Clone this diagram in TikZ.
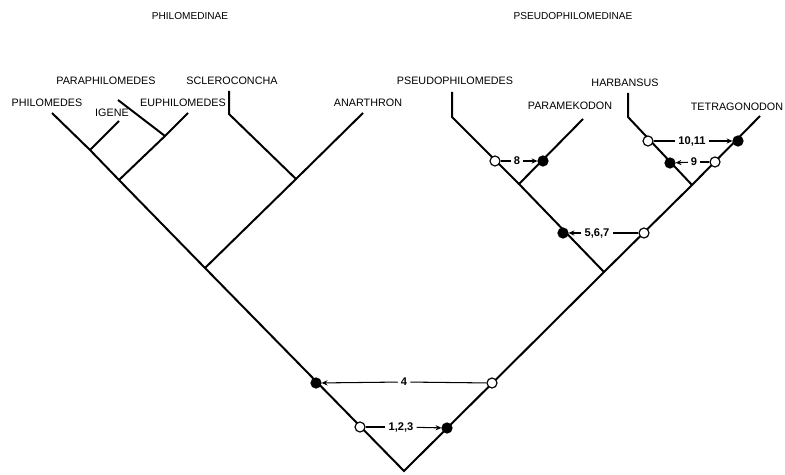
\documentclass[tikz,border=0pt]{standalone}
\usepackage{fontspec}
\setmainfont{Liberation Sans}
\usetikzlibrary{positioning,arrows.meta}

\begin{document}
\begin{tikzpicture}[x=0.3mm, y=-0.3mm, every node/.style={font=\fontsize{9.2}{11}\selectfont}]
    \tikzset{
        branch/.style = {line width=1.7pt, line join=miter},
        openmark/.style = {circle, draw=black, fill=white, line width=1pt, inner sep=0pt, minimum size=3mm},
        fullmark/.style = {circle, draw=black, fill=black, line width=1pt, inner sep=0pt, minimum size=3mm},
        taxon/.style = {inner sep=0.5pt},
        group/.style = {inner sep=1pt, font=\fontsize{8.6}{10}\selectfont},
        change/.style = {inner sep=2.5pt, font=\fontsize{9.5}{11}\selectfont\bfseries},
        tie/.style = {line width=0.9pt},
        arrow/.style = {line width=0.9pt, -{Stealth[length=5pt,width=4.5pt]}},
    }
    \useasboundingbox (0,0) rectangle (785,475);

    % group names
    \node (philomedinae) [group] at (190,16) {PHILOMEDINAE};
    \node (pseudophilomedinae) [group] at (573,16) {PSEUDOPHILOMEDINAE};

    % branch points and tips
    \coordinate (root) at (404,471);
    \coordinate (left) at (205,268);
    \coordinate (right) at (604,272);
    \coordinate (philo_eu) at (119,180);
    \coordinate (philo_ig) at (90,150);
    \coordinate (para_eu) at (165,136);
    \coordinate (scler_an) at (296,179);
    \coordinate (pseudo_pm) at (519,184);
    \coordinate (harb_tet) at (692,185);

    \coordinate (t_philomedes) at (52,113);
    \coordinate (t_igene) at (119,121);
    \coordinate (t_paraphilomedes) at (118,100);
    \coordinate (t_euphilomedes) at (188,113);
    \coordinate (b_scleroconcha) at (229,114);
    \coordinate (t_scleroconcha) at (229,91);
    \coordinate (t_anarthron) at (363,113);
    \coordinate (b_pseudophilomedes) at (452,117);
    \coordinate (t_pseudophilomedes) at (452,92);
    \coordinate (t_paramekodon) at (583,119);
    \coordinate (b_harbansus) at (628,117);
    \coordinate (t_harbansus) at (628,93);
    \coordinate (t_tetragonodon) at (760,116);

    % taxa
    \node (philomedes) [taxon] at (47,103) {PHILOMEDES};
    \node (igene) [taxon] at (112,113) {IGENE};
    \node (paraphilomedes) [taxon] at (106,81) {PARAPHILOMEDES};
    \node (euphilomedes) [taxon] at (183,103) {EUPHILOMEDES};
    \node (scleroconcha) [taxon] at (232,81) {SCLEROCONCHA};
    \node (anarthron) [taxon] at (368,103) {ANARTHRON};
    \node (pseudophilomedes) [taxon] at (455,81) {PSEUDOPHILOMEDES};
    \node (paramekodon) [taxon] at (570,106) {PARAMEKODON};
    \node (harbansus) [taxon] at (625,83) {HARBANSUS};
    \node (tetragonodon) [taxon] at (737,107) {TETRAGONODON};

    % tree
    \draw [branch] (t_philomedes) -- (philo_ig) -- (philo_eu) -- (left) -- (root) -- (right) -- (harb_tet) -- (t_tetragonodon);
    \draw [branch] (philo_ig) -- (t_igene);
    \draw [branch] (philo_eu) -- (para_eu) -- (t_euphilomedes);
    \draw [branch] (para_eu) -- (t_paraphilomedes);
    \draw [branch] (left) -- (scler_an) -- (t_anarthron);
    \draw [branch] (scler_an) -- (b_scleroconcha) -- (t_scleroconcha);
    \draw [branch] (right) -- (pseudo_pm) -- (t_paramekodon);
    \draw [branch] (pseudo_pm) -- (b_pseudophilomedes) -- (t_pseudophilomedes);
    \draw [branch] (harb_tet) -- (b_harbansus) -- (t_harbansus);

    % character changes
    \node (o123) [openmark] at (360,427) {};
    \node (f123) [fullmark] at (447,428) {};
    \node (c123) [change] at (401,427) {1,2,3};
    \draw [tie] (o123) -- (c123);
    \draw [arrow] (c123) -- (f123);

    \node (f4) [fullmark] at (316,383) {};
    \node (o4) [openmark] at (492,383) {};
    \node (c4) [change] at (404,382) {4};
    \draw [tie] (o4) -- (c4);
    \draw [arrow] (c4) -- (f4);

    \node (f567) [fullmark] at (563,233) {};
    \node (o567) [openmark] at (644,233) {};
    \node (c567) [change] at (597,233) {5,6,7};
    \draw [tie] (o567) -- (c567);
    \draw [arrow] (c567) -- (f567);

    \node (o8) [openmark] at (495,161) {};
    \node (f8) [fullmark] at (543,161) {};
    \node (c8) [change] at (517,161) {8};
    \draw [tie] (o8) -- (c8);
    \draw [arrow] (c8) -- (f8);

    \node (f9) [fullmark] at (670,163) {};
    \node (o9) [openmark] at (715,162) {};
    \node (c9) [change] at (694,162) {9};
    \draw [tie] (o9) -- (c9);
    \draw [arrow] (c9) -- (f9);

    \node (o1011) [openmark] at (648,141) {};
    \node (f1011) [fullmark] at (738,141) {};
    \node (c1011) [change] at (692,141) {10,11};
    \draw [tie] (o1011) -- (c1011);
    \draw [arrow] (c1011) -- (f1011);
\end{tikzpicture}
\end{document}
